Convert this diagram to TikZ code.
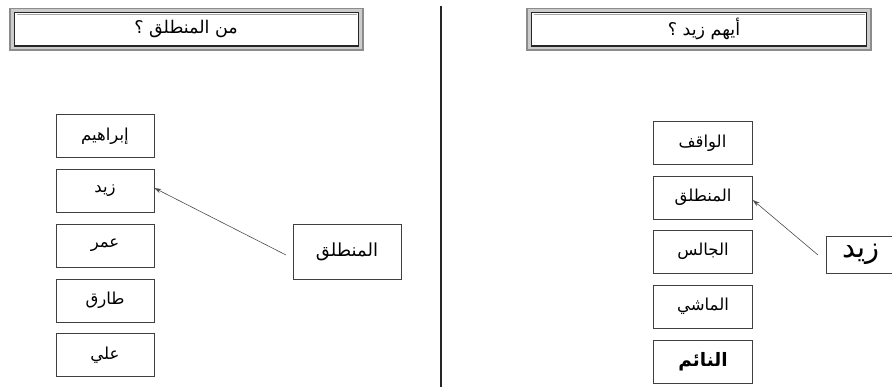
\documentclass[tikz,border=0pt]{standalone}
\usepackage{fontspec}
\usetikzlibrary{arrows.meta}
\newfontfamily\arabicfont[Script=Arabic]{DejaVu Sans}
\TeXXeTstate=1
\tikzset{
  box/.style={draw=black!75, line width=0.6pt, minimum width=98pt, minimum height=43pt, inner sep=0pt,
    font=\arabicfont\fontsize{16.5}{18}\selectfont},
  ptr/.style={-{Stealth[length=7pt,width=4.5pt]}, draw=black!70, line width=0.6pt},
  titletext/.style={font=\arabicfont\fontsize{17.5}{19}\selectfont},
}
\begin{document}
\begin{tikzpicture}[x=1pt,y=-1pt]
\useasboundingbox (0,0) rectangle (892,387);
\clip (0,0) rectangle (892,387);
% title frames
\foreach \xa/\xb in {10/363, 527/871}{
  \draw[black!45, line width=1.3pt, fill=black!20] (\xa,8.5) rectangle (\xb,50);
  \draw[black!85, line width=1.6pt, fill=white] (\xa+4.5,12.5) rectangle (\xb-4.5,46);
  \draw[black!35, line width=0.7pt] (\xa+6.5,14) -- (\xb-6.5,14);
}
\node[titletext] (tl) at (186,29) {\beginR من المنطلق ؟\endR};
\node[titletext] (tr) at (704,29) {\beginR أيهم زيد ؟\endR};
% divider
\coordinate (d1) at (441,6);
\coordinate (d2) at (441,387);
\draw[black!85, line width=2pt] (d1) -- (d2);
% left column
\node[box] (l1) at (105,136) {\beginR إبراهيم\endR};
\node[box] (l2) at (105,190.5) {\beginR زيد\endR};
\node[box] (l3) at (105,245.5) {\beginR عمر\endR};
\node[box] (l4) at (105,300.5) {\beginR طارق\endR};
\node[box] (l5) at (105,355) {\beginR علي\endR};
\node[box, minimum width=108pt, minimum height=55pt, font=\arabicfont\fontsize{18}{20}\selectfont] (lp) at (347,251.5) {\beginR المنطلق\endR};
\coordinate (la) at (286,255);
\draw[ptr] (la) -- ([yshift=2.5pt]l2.east);
% right column
\node[box, minimum width=99pt] (r1) at (702.5,143) {\beginR الواقف\endR};
\node[box, minimum width=99pt] (r2) at (703,197.5) {\beginR المنطلق\endR};
\node[box, minimum width=99pt] (r3) at (703,251.5) {\beginR الجالس\endR};
\node[box, minimum width=99pt] (r4) at (703,306.5) {\beginR الماشي\endR};
\node[box, minimum width=99pt, font=\arabicfont\bfseries\fontsize{18.5}{20}\selectfont] (r5) at (703,361.5) {\beginR النائم\endR};
\node[box, minimum width=70pt, minimum height=37pt, font=\arabicfont\fontsize{29}{30}\selectfont] (rp) at (861,254.5) {\beginR زيد\endR};
\coordinate (ra) at (818,255);
\draw[ptr] (ra) -- ([yshift=-2.5pt]r2.east);
\end{tikzpicture}
\end{document}
